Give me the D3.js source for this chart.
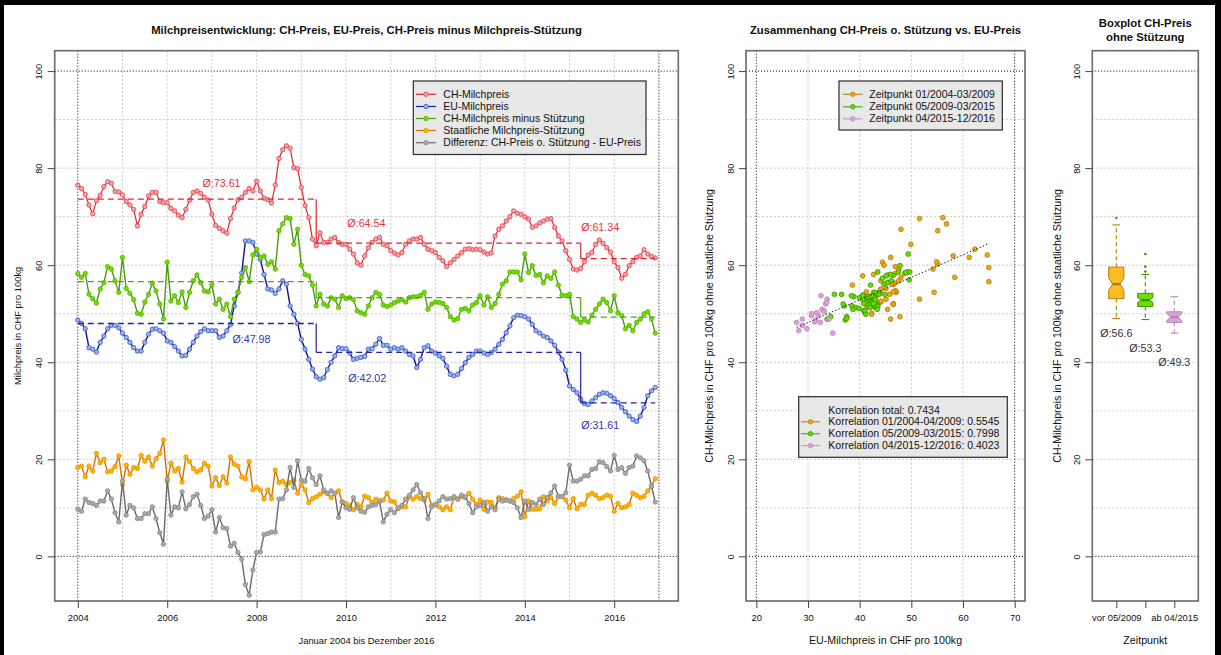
<!DOCTYPE html>
<html><head><meta charset="utf-8">
<script src="https://cdn.jsdelivr.net/npm/d3@7"></script>
<style>
html,body{margin:0;padding:0;background:#fff;}
svg{display:block;font-family:"Liberation Sans",Arial,sans-serif;}
</style></head><body>
<svg id="chart" width="1221" height="655"></svg>
<script>
// ---- monthly series, January 2004 .. December 2016 (CHF per 100 kg) ----
const startYear = 2004;
const chPrice = [
 76.5,75.8,74.6,72.4,70.6,73.3,74.4,76.2,77.2,76.9,75.2,75.1,
 74.5,73.1,72.4,71.5,68.1,70.5,72.1,74.3,75.0,75.0,73.1,72.9,
 72.9,71.7,71.2,70.3,69.8,71.5,73.4,75.0,75.3,74.8,74.0,73.4,
 70.5,68.2,67.6,67.1,66.6,69.6,71.8,73.5,74.0,75.0,75.8,75.3,
 77.3,75.3,73.8,73.5,72.8,76.5,82.0,83.8,84.6,84.1,80.1,79.9,
 76.0,72.3,69.8,65.4,64.0,66.7,64.7,64.7,65.4,65.7,64.7,64.3,
 64.3,63.3,62.3,60.5,60.0,61.9,63.6,64.7,65.4,65.7,64.3,64.0,
 63.0,62.5,62.1,62.6,64.3,65.0,65.4,65.4,65.7,64.3,63.3,63.0,
 62.6,61.6,60.9,59.7,60.5,61.2,61.9,62.6,63.3,63.4,63.2,63.3,
 63.2,62.7,62.3,62.5,66.0,67.4,68.1,69.1,70.0,71.2,70.7,70.5,
 70.0,69.5,67.8,68.1,68.7,69.1,69.5,69.6,67.8,66.0,65.0,63.0,
 61.2,59.2,59.0,59.3,60.7,62.1,62.6,64.3,65.2,64.5,63.6,62.7,
 60.7,59.5,57.3,58.1,59.9,60.7,61.6,61.9,63.2,62.3,61.8,61.5
];
const euPrice = [
 48.7,48.0,46.9,43.0,42.7,42.1,44.1,45.4,46.9,47.6,47.6,47.1,
 46.0,45.1,44.1,43.0,42.3,42.3,44.1,45.8,46.8,46.9,46.5,46.0,
 44.4,44.1,43.2,42.3,41.3,41.4,42.7,44.1,45.4,46.3,46.9,46.5,
 46.5,46.5,45.1,45.4,46.5,47.8,51.6,54.4,58.4,65.0,65.0,64.7,
 62.3,61.2,58.1,55.1,54.9,54.2,55.1,56.8,56.1,51.6,49.9,48.0,
 44.7,42.7,40.6,38.6,37.0,36.5,36.8,38.5,40.0,41.3,43.0,42.8,
 42.8,41.9,40.6,40.8,41.0,41.2,42.7,42.8,43.7,44.9,43.5,43.5,
 42.7,43.0,42.7,43.0,42.3,41.6,41.3,38.9,40.6,43.0,43.4,42.3,
 41.9,41.3,40.8,39.2,37.5,37.2,37.5,38.7,39.9,41.0,41.6,42.3,
 42.3,41.9,41.6,42.0,42.7,43.7,44.7,46.1,47.5,49.2,49.7,49.6,
 49.4,48.9,47.8,46.5,46.0,45.4,45.1,44.4,43.5,42.1,40.6,38.4,
 35.1,34.4,33.7,32.4,31.5,31.3,32.0,32.7,33.4,33.7,33.6,33.1,
 32.5,31.7,30.7,29.8,28.9,28.2,27.8,28.9,30.7,33.1,34.1,34.8
];
const chNetPrice = [
 58.3,57.5,58.3,54.0,53.1,52.2,55.1,56.4,59.7,59.2,56.8,54.4,
 61.6,55.2,54.2,52.9,50.1,49.9,52.4,54.0,56.3,54.7,52.0,48.9,
 60.6,52.6,53.7,52.3,54.5,51.3,54.4,56.8,58.0,56.4,54.7,54.5,
 56.0,52.0,53.0,50.9,52.0,49.4,53.0,54.4,57.5,59.5,56.6,62.1,
 63.3,61.6,61.9,60.2,60.7,59.2,67.1,68.5,69.8,69.6,64.3,67.4,
 60.0,58.1,57.8,55.9,51.6,54.0,52.0,51.6,53.3,53.0,51.3,53.7,
 53.1,53.3,52.9,50.6,50.2,49.9,51.6,53.3,54.4,54.0,51.8,51.5,
 51.8,52.3,52.6,52.9,52.4,53.3,53.5,53.5,53.8,54.4,50.9,52.0,
 52.4,52.3,52.1,51.3,49.4,48.7,49.0,50.9,51.1,50.6,51.8,52.3,
 53.7,51.8,53.5,51.3,52.1,54.0,56.1,56.8,58.6,58.6,58.6,57.0,
 62.3,58.5,59.9,57.9,58.1,56.4,57.8,57.3,58.6,55.9,53.8,53.7,
 54.0,49.4,48.9,48.2,48.7,48.3,49.7,50.9,52.0,53.0,52.3,50.6,
 53.7,50.2,49.6,46.9,47.6,46.5,48.2,48.9,50.0,50.4,48.9,46.0
];
const supportPrice = [
 18.3,18.6,16.4,18.6,17.6,21.2,19.3,20.0,17.4,17.6,18.5,20.7,
 14.8,18.8,16.9,18.3,18.1,20.8,19.6,20.5,18.6,20.1,21.2,24.0,
 15.5,19.2,17.6,18.1,15.3,20.5,19.5,18.1,17.4,17.8,19.2,18.6,
 14.5,16.2,14.6,16.4,15.1,20.5,19.0,18.6,16.4,16.0,19.5,13.7,
 14.2,13.7,11.8,13.7,11.9,17.8,15.2,15.5,14.8,15.2,15.7,13.0,
 14.8,13.7,11.1,11.9,12.3,12.8,13.3,13.0,12.1,13.0,13.5,11.2,
 10.9,10.5,9.6,10.7,10.2,12.4,12.1,11.1,11.8,11.4,11.6,13.0,
 11.4,11.2,9.8,10.2,10.2,12.3,11.8,12.3,11.9,11.6,12.8,10.5,
 10.7,10.2,9.6,10.2,9.6,12.1,11.8,12.3,12.1,13.0,11.8,10.7,
 11.6,9.7,11.2,11.1,10.0,12.1,11.9,11.6,11.4,11.9,12.4,13.3,
 8.2,11.4,9.7,9.7,9.8,12.3,11.4,12.1,10.9,12.3,12.3,11.6,
 10.0,11.9,9.8,10.7,10.7,12.6,13.0,12.6,11.9,12.1,12.6,12.4,
 9.3,10.9,10.0,10.2,10.7,13.0,12.6,12.1,12.4,13.5,14.5,16.0
];
const gapPrice = [
 9.7,9.3,11.8,11.1,10.9,10.5,11.4,11.4,13.5,11.8,9.0,7.1,
 15.5,8.5,10.5,10.0,7.8,7.8,8.8,8.8,10.2,7.8,4.9,2.5,
 15.9,8.5,10.2,10.0,13.3,9.8,10.7,12.3,12.8,10.5,7.8,8.3,
 9.6,5.0,8.0,5.9,5.7,2.1,2.7,0.8,-0.6,-5.8,-8.0,-2.8,
 0.8,0.9,4.5,4.7,5.0,5.0,11.8,11.9,13.7,18.3,14.2,19.7,
 15.7,15.5,18.1,16.2,14.8,16.6,13.7,13.0,13.5,13.0,8.0,11.2,
 10.0,9.7,12.1,10.0,9.3,9.1,10.2,10.5,10.7,11.4,7.1,8.7,
 9.6,9.0,10.0,10.5,11.8,12.6,13.7,14.8,13.1,11.9,7.8,10.2,
 10.7,11.4,12.3,11.8,11.9,12.3,11.8,12.6,12.3,10.9,9.0,10.2,
 10.5,11.1,9.3,10.2,9.6,11.8,11.4,11.6,11.4,11.1,10.0,8.0,
 11.4,9.7,11.1,10.7,11.8,10.7,12.1,13.1,14.5,12.4,12.3,13.1,
 18.8,15.5,15.5,15.9,16.6,16.6,17.9,18.1,19.5,19.3,18.5,17.6,
 20.8,17.9,18.3,17.1,18.3,18.6,20.7,20.3,19.7,17.6,14.5,11.2
];

// ---- periods (index of first month) and period means ----
const periodStart = [0, 64, 135];
const meanCH = [73.61, 64.54, 61.34];
const meanEU = [47.98, 42.02, 31.61];
const meanNet = [56.6, 53.3, 49.3];
// where the mean labels sit (year, value) for CH and EU
const meanLabelYearCH = [2006.79, 2010.03, 2015.26];
const meanLabelValCH = [76.9, 68.6, 67.8];
const meanLabelYearEU = [2007.46, 2010.05, 2015.26];
const meanLabelValEU = [44.7, 36.7, 27.0];

// ---- boxplot statistics of the CH price without support ----
const boxGroups = ["vor 05/2009", "", "ab 04/2015"];
const boxLow = [49.0, 48.8, 46.0];
const boxQ1 = [53.1, 51.5, 48.2];
const boxMed = [56.1, 52.8, 49.3];
const boxQ3 = [59.6, 54.2, 50.4];
const boxHigh = [68.3, 58.1, 53.5];
const boxOut = [[69.7], [58.7, 59.7, 62.3], []];
const boxN = [64, 71, 21];
const boxMeanLabelVal = [46.0, 42.8, 40.1];

// ---- axis ticks and texts ----
const yTicks = [0, 20, 40, 60, 80, 100];
const yearTicks = [2004, 2006, 2008, 2010, 2012, 2014, 2016];
const euTicks = [20, 30, 40, 50, 60, 70];
const lineLegend = ["CH-Milchpreis", "EU-Milchpreis", "CH-Milchpreis minus Stützung",
  "Staatliche Milchpreis-Stützung", "Differenz: CH-Preis o. Stützung - EU-Preis"];
const periodLegend = ["Zeitpunkt 01/2004-03/2009", "Zeitpunkt 05/2009-03/2015", "Zeitpunkt 04/2015-12/2016"];
const corrLegend = ["Korrelation total: 0.7434", "Korrelation 01/2004-04/2009: 0.5545",
  "Korrelation 05/2009-03/2015: 0.7998", "Korrelation 04/2015-12/2016: 0.4023"];

// ================= drawing =================
const svg = d3.select("#chart");
svg.append("rect").attr("width", 1221).attr("height", 655).attr("fill", "#fff");

const expand = ([a, b]) => { const d = (b - a) * 0.04; return [a - d, b + d]; };
const times = chPrice.map((_, i) => startYear + i / 12);

const plotTop = 50.7, plotBottom = 601;
const panelL = { x0: 54.7, x1: 678.3 };
const panelS = { x0: 746, x1: 1025 };
const panelB = { x0: 1092.3, x1: 1198.3 };

const y = d3.scaleLinear().domain(expand([-5, 100])).range([plotBottom, plotTop]);
const xT = d3.scaleLinear().domain(expand(d3.extent(times))).range([panelL.x0, panelL.x1]);
const xE = d3.scaleLinear().domain(expand([20, 70])).range([panelS.x0, panelS.x1]);
const xB = d3.scaleLinear().domain([0.172, 3.828]).range([panelB.x0, panelB.x1]);

const GRID = "#c9c9c9", FRAME = "#707070";
const titleFont = 11.3, tickFont = 9.4, labFont = 10.7, legFont = 10.5;

const styles = {
  ch:   { line: "#e3232c", pt: "#f4a3a8", ptStroke: "#e0404a", w: 1.2 },
  eu:   { line: "#1c1c96", pt: "#96b4ee", ptStroke: "#3a55c8", w: 1.5 },
  net:  { line: "#4a9a12", pt: "#6ee000", ptStroke: "#58b000", w: 1.4 },
  sup:  { line: "#d77000", pt: "#ffb400", ptStroke: "#e89400", w: 1.4 },
  gap:  { line: "#6a6a6a", pt: "#a9a9a9", ptStroke: "#8a8a8a", w: 1.4 }
};
const periodStyle = [
  { fill: "#f2a60f", stroke: "#b87a10", line: "#b8872e" },
  { fill: "#66dd00", stroke: "#3e9200", line: "#4caf10" },
  { fill: "#dda0dd", stroke: "#b888b8", line: "#c49ac4" }
];

function hGrid(g, x0, x1) {
  d3.range(10, 100, 10).forEach(v => g.append("line")
    .attr("x1", x0).attr("x2", x1).attr("y1", y(v)).attr("y2", y(v))
    .attr("stroke", GRID).attr("stroke-dasharray", "2,2"));
  [0, 100].forEach(v => g.append("line")
    .attr("x1", x0).attr("x2", x1).attr("y1", y(v)).attr("y2", y(v))
    .attr("stroke", "#000").attr("stroke-dasharray", "1,2"));
}
function vGrid(g, xs, scale, blacks) {
  xs.forEach(v => g.append("line")
    .attr("x1", scale(v)).attr("x2", scale(v)).attr("y1", plotTop).attr("y2", plotBottom)
    .attr("stroke", GRID).attr("stroke-dasharray", "2,2"));
  blacks.forEach(v => g.append("line")
    .attr("x1", scale(v)).attr("x2", scale(v)).attr("y1", plotTop).attr("y2", plotBottom)
    .attr("stroke", "#000").attr("stroke-dasharray", "1,2"));
}
function frame(p) {
  svg.append("rect").attr("x", p.x0).attr("y", plotTop)
    .attr("width", p.x1 - p.x0).attr("height", plotBottom - plotTop)
    .attr("fill", "none").attr("stroke", FRAME).attr("stroke-width", 1.7);
}
function yAxis(p) {
  const g = svg.append("g").attr("transform", `translate(${p.x0},0)`)
    .call(d3.axisLeft(y).tickValues(yTicks).tickSize(7).tickFormat(d3.format("d")));
  g.select(".domain").remove();
  g.selectAll(".tick line").attr("stroke", "#444");
  g.selectAll(".tick text").attr("x", 0).attr("dy", "0.35em")
    .attr("text-anchor", "middle").attr("transform", "translate(-15.5,0) rotate(-90)")
    .attr("font-size", tickFont).attr("font-family", "Liberation Sans, Arial, sans-serif").attr("fill", "#111");
}
function xAxis(scale, ticks, fmt) {
  const g = svg.append("g").attr("transform", `translate(0,${plotBottom})`)
    .call(d3.axisBottom(scale).tickValues(ticks).tickSize(7).tickFormat(fmt));
  g.select(".domain").remove();
  g.selectAll(".tick line").attr("stroke", "#444");
  g.selectAll(".tick text").attr("y", 16.5).attr("dy", "0.35em")
    .attr("font-size", tickFont).attr("font-family", "Liberation Sans, Arial, sans-serif").attr("fill", "#111");
  return g;
}
function text(x, yy, str, opt = {}) {
  const t = svg.append("text").attr("x", x).attr("y", yy).text(str)
    .attr("font-size", opt.size || labFont).attr("fill", opt.fill || "#111")
    .attr("text-anchor", opt.anchor || "middle").attr("dy", "0.35em");
  if (opt.bold) t.attr("font-weight", "bold");
  if (opt.rotate) t.attr("transform", `rotate(-90,${x},${yy})`);
  return t;
}
function legend(box, rows, rowY, textX, symX, symW) {
  const g = svg.append("g");
  g.append("rect").attr("x", box[0]).attr("y", box[1]).attr("width", box[2]).attr("height", box[3])
    .attr("fill", "#e8e8e8").attr("stroke", "#2a2a2a").attr("stroke-width", 1.2);
  rows.forEach((r, i) => {
    const yy = rowY[i];
    if (r.line) {
      g.append("line").attr("x1", symX).attr("x2", symX + symW).attr("y1", yy).attr("y2", yy)
        .attr("stroke", r.line).attr("stroke-width", 1.2);
      g.append("circle").attr("cx", symX + symW / 2).attr("cy", yy).attr("r", 2.2)
        .attr("fill", r.pt).attr("stroke", r.ptStroke).attr("stroke-width", 0.8);
    }
    g.append("text").attr("x", textX).attr("y", yy).attr("dy", "0.35em")
      .attr("font-size", legFont).attr("fill", "#111").text(r.label);
  });
}

// ---------- panel 1: time series ----------
const gL = svg.append("g");
hGrid(gL, panelL.x0, panelL.x1);
vGrid(gL, d3.range(2005, 2017), xT, [2004, 2017]);

const seriesList = [
  { v: chPrice, s: styles.ch }, { v: euPrice, s: styles.eu }, { v: chNetPrice, s: styles.net },
  { v: supportPrice, s: styles.sup }, { v: gapPrice, s: styles.gap }
];
const lineGen = d3.line().x((d, i) => xT(times[i])).y(d => y(d));
seriesList.forEach(({ v, s }) => {
  gL.append("path").datum(v).attr("d", lineGen).attr("fill", "none")
    .attr("stroke", s.line).attr("stroke-width", s.w);
  gL.selectAll(null).data(v).join("circle")
    .attr("cx", (d, i) => xT(times[i])).attr("cy", d => y(d)).attr("r", 2.2)
    .attr("fill", s.pt).attr("stroke", s.ptStroke).attr("stroke-width", 0.8);
});

// period means as dashed steps
function meanSteps(means, color) {
  const bounds = periodStart.map((s, k) => [times[s], k < periodStart.length - 1 ? times[periodStart[k + 1]] : times[times.length - 1]]);
  bounds.forEach(([a, b], k) => {
    gL.append("line").attr("x1", xT(a)).attr("x2", xT(b)).attr("y1", y(means[k])).attr("y2", y(means[k]))
      .attr("stroke", color).attr("stroke-width", 1.3).attr("stroke-dasharray", "6,4");
    if (k > 0) gL.append("line").attr("x1", xT(a)).attr("x2", xT(a))
      .attr("y1", y(means[k - 1])).attr("y2", y(means[k])).attr("stroke", color).attr("stroke-width", 1.2);
  });
}
meanSteps(meanCH, "#e3232c");
meanSteps(meanNet, "#4fa318");
meanSteps(meanEU, "#2323a8");
meanCH.forEach((m, k) => text(xT(meanLabelYearCH[k]), y(meanLabelValCH[k]), "Ø:" + m.toFixed(2), { anchor: "start", fill: "#e3323a", size: 10.7 }));
meanEU.forEach((m, k) => text(xT(meanLabelYearEU[k]), y(meanLabelValEU[k]), "Ø:" + m.toFixed(2), { anchor: "start", fill: "#3434b4", size: 10.7 }));

legend([413.3, 81, 232.7, 73.5],
  lineLegend.map((l, i) => ({ label: l, ...[styles.ch, styles.eu, styles.net, styles.sup, styles.gap][i] })),
  [94.3, 106.5, 118.5, 130.5, 142.7], 443.3, 416, 20);

frame(panelL);
yAxis(panelL);
xAxis(xT, yearTicks, d3.format("d"));
text((panelL.x0 + panelL.x1) / 2, 30.5, "Milchpreisentwicklung: CH-Preis, EU-Preis, CH-Preis minus Milchpreis-Stützung", { bold: true, size: titleFont });
text((panelL.x0 + panelL.x1) / 2, 640.5, "Januar 2004 bis Dezember 2016", { size: 9.4 });
text(18, (plotTop + plotBottom) / 2, "Milchpreis in CHF pro 100kg", { rotate: true, size: 9.4 });

// ---------- panel 2: scatter EU price vs CH price without support ----------
const gS = svg.append("g");
hGrid(gS, panelS.x0, panelS.x1);
vGrid(gS, [30, 40, 50, 60], xE, [20, 70]);
const periodOf = i => (i >= periodStart[2] ? 2 : i >= periodStart[1] ? 1 : 0);
const pts = euPrice.map((e, i) => ({ e, c: chNetPrice[i], p: periodOf(i) }));
[0, 1, 2].forEach(p => {
  gS.selectAll(null).data(pts.filter(d => d.p === p)).join("circle")
    .attr("cx", d => xE(d.e)).attr("cy", d => y(d.c)).attr("r", 2.4)
    .attr("fill", periodStyle[p].fill).attr("stroke", periodStyle[p].stroke).attr("stroke-width", 0.8);
});
// least squares line over the full period
const mx = d3.mean(euPrice), my = d3.mean(chNetPrice);
const slope = d3.sum(euPrice, (e, i) => (e - mx) * (chNetPrice[i] - my)) / d3.sum(euPrice, e => (e - mx) ** 2);
const icpt = my - slope * mx;
const [eMin, eMax] = d3.extent(euPrice);
gS.append("line").attr("x1", xE(eMin)).attr("x2", xE(eMax))
  .attr("y1", y(icpt + slope * eMin)).attr("y2", y(icpt + slope * eMax))
  .attr("stroke", "#222").attr("stroke-width", 1).attr("stroke-dasharray", "1.5,2");

legend([839, 81, 163.3, 49],
  periodLegend.map((l, i) => ({ label: l, line: periodStyle[i].line, pt: periodStyle[i].fill, ptStroke: periodStyle[i].stroke })),
  [94.3, 106.8, 118.8], 869.3, 843, 19.5);
legend([798.7, 396.7, 208.6, 60.6],
  corrLegend.map((l, i) => i === 0 ? { label: l } : { label: l, line: periodStyle[i - 1].line, pt: periodStyle[i - 1].fill, ptStroke: periodStyle[i - 1].stroke }),
  [410, 421.8, 433.7, 445.6], 828.3, 801, 19);

frame(panelS);
yAxis(panelS);
xAxis(xE, euTicks, d3.format("d"));
text((panelS.x0 + panelS.x1) / 2, 30.5, "Zusammenhang CH-Preis o. Stützung vs. EU-Preis", { bold: true, size: titleFont });
text((panelS.x0 + panelS.x1) / 2, 640.5, "EU-Milchpreis in CHF pro 100kg", { size: labFont });
text(709, (plotTop + plotBottom) / 2, "CH-Milchpreis in CHF pro 100kg ohne staatliche Stützung", { rotate: true, size: labFont });

// ---------- panel 3: notched boxplots ----------
const gB = svg.append("g");
hGrid(gB, panelB.x0, panelB.x1);
const halfW = 7.6;
boxGroups.forEach((lab, k) => {
  const cx = xB(k + 1), st = periodStyle[k];
  const boxFill = ["#fbbd22", "#6ee000", "#dda0dd"][k];
  const notch = 1.58 * (boxQ3[k] - boxQ1[k]) / Math.sqrt(boxN[k]);
  const nLo = y(boxMed[k] - notch), nHi = y(boxMed[k] + notch);
  // whiskers
  [[boxQ3[k], boxHigh[k]], [boxQ1[k], boxLow[k]]].forEach(([a, b]) => {
    gB.append("line").attr("x1", cx).attr("x2", cx).attr("y1", y(a)).attr("y2", y(b))
      .attr("stroke", st.stroke).attr("stroke-width", 1.1).attr("stroke-dasharray", "4,3");
    gB.append("line").attr("x1", cx - halfW / 2).attr("x2", cx + halfW / 2).attr("y1", y(b)).attr("y2", y(b))
      .attr("stroke", st.stroke).attr("stroke-width", 1.1);
  });
  const poly = [
    [cx - halfW, y(boxQ1[k])], [cx - halfW, nLo], [cx - halfW / 2, y(boxMed[k])], [cx - halfW, nHi],
    [cx - halfW, y(boxQ3[k])], [cx + halfW, y(boxQ3[k])], [cx + halfW, nHi], [cx + halfW / 2, y(boxMed[k])],
    [cx + halfW, nLo], [cx + halfW, y(boxQ1[k])]
  ];
  gB.append("polygon").attr("points", poly.map(p => p.join(",")).join(" "))
    .attr("fill", boxFill).attr("stroke", st.stroke).attr("stroke-width", 1);
  gB.append("line").attr("x1", cx - halfW / 2).attr("x2", cx + halfW / 2)
    .attr("y1", y(boxMed[k])).attr("y2", y(boxMed[k])).attr("stroke", st.stroke).attr("stroke-width", 2.4);
  boxOut[k].forEach(o => gB.append("circle").attr("cx", cx).attr("cy", y(o)).attr("r", 1.3)
    .attr("fill", st.stroke));
  text(cx, y(boxMeanLabelVal[k]), "Ø:" + meanNet[k].toFixed(1), { size: labFont, fill: "#333" });
});
frame(panelB);
yAxis(panelB);
xAxis(xB, [1, 2, 3], d => boxGroups[d - 1]);
text((panelB.x0 + panelB.x1) / 2, 23.3, "Boxplot CH-Preis", { bold: true, size: titleFont });
text((panelB.x0 + panelB.x1) / 2, 37.3, "ohne Stützung", { bold: true, size: titleFont });
text((panelB.x0 + panelB.x1) / 2, 640.5, "Zeitpunkt", { size: labFont });
text(1057, (plotTop + plotBottom) / 2, "CH-Milchpreis in CHF pro 100kg ohne staatliche Stützung", { rotate: true, size: labFont });

// ---------- outer black frame ----------
svg.append("rect").attr("x", 0).attr("y", 0).attr("width", 1221).attr("height", 5).attr("fill", "#000");
svg.append("rect").attr("x", 0).attr("y", 0).attr("width", 4).attr("height", 655).attr("fill", "#000");
svg.append("rect").attr("x", 1215).attr("y", 0).attr("width", 6).attr("height", 655).attr("fill", "#000");
</script>
</body></html>
